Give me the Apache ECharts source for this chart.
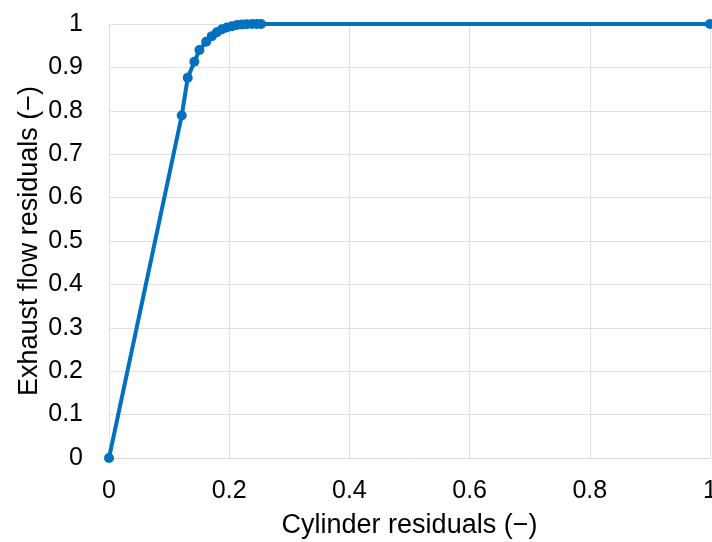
<!DOCTYPE html>
<html><head><meta charset="utf-8">
<script src="https://cdn.jsdelivr.net/npm/echarts@6/dist/echarts.min.js"></script>
<style>html,body{margin:0;padding:0;background:#fff}#c{width:712px;height:542px}</style>
</head><body><div id="c"></div>
<script>
const xValues = [0, 0.121, 0.131, 0.142, 0.1505, 0.1617, 0.171, 0.1795, 0.188, 0.196, 0.2045, 0.213, 0.221, 0.229, 0.238, 0.246, 0.253, 1];
const yValues = [0, 0.789, 0.876, 0.913, 0.940, 0.959, 0.972, 0.981, 0.988, 0.992, 0.995, 0.9977, 0.999, 0.9995, 1, 1, 1, 1];
const xTitle = 'Cylinder residuals (\u2212)';
const yTitle = 'Exhaust flow residuals (\u2212)';

const chart = echarts.init(document.getElementById('c'));
const font = 'Liberation Sans, Arial, sans-serif';
chart.setOption({
  animation: false,
  grid: {left: 109, top: 24, right: 2, bottom: 84, containLabel: false, outerBoundsMode: 'none'},
  xAxis: {
    type: 'value', min: 0, max: 1, interval: 0.2,
    name: xTitle, nameLocation: 'middle', nameGap: 54, nameMoveOverlap: false,
    nameTextStyle: {fontFamily: font, fontSize: 27, color: '#000'},
    axisLine: {show: true, lineStyle: {color: '#d9d9d9', width: 1}},
    axisTick: {show: false},
    axisLabel: {fontFamily: font, fontSize: 25, color: '#000', margin: 21},
    splitLine: {show: true, lineStyle: {color: '#e0e0e0', width: 1}}
  },
  yAxis: {
    type: 'value', min: 0, max: 1, interval: 0.1,
    name: yTitle, nameLocation: 'middle', nameGap: 66, nameRotate: 90, nameMoveOverlap: false,
    nameTextStyle: {fontFamily: font, fontSize: 27, color: '#000'},
    axisLine: {show: false},
    axisTick: {show: false},
    axisLabel: {fontFamily: font, fontSize: 25, color: '#000', margin: 26},
    splitLine: {show: true, lineStyle: {color: '#e0e0e0', width: 1}}
  },
  series: [{
    type: 'line',
    data: xValues.map((x, i) => [x, yValues[i]]),
    symbol: 'circle', symbolSize: 10,
    lineStyle: {color: '#0070C0', width: 4},
    itemStyle: {color: '#0070C0'},
    clip: false
  }]
});
</script></body></html>
